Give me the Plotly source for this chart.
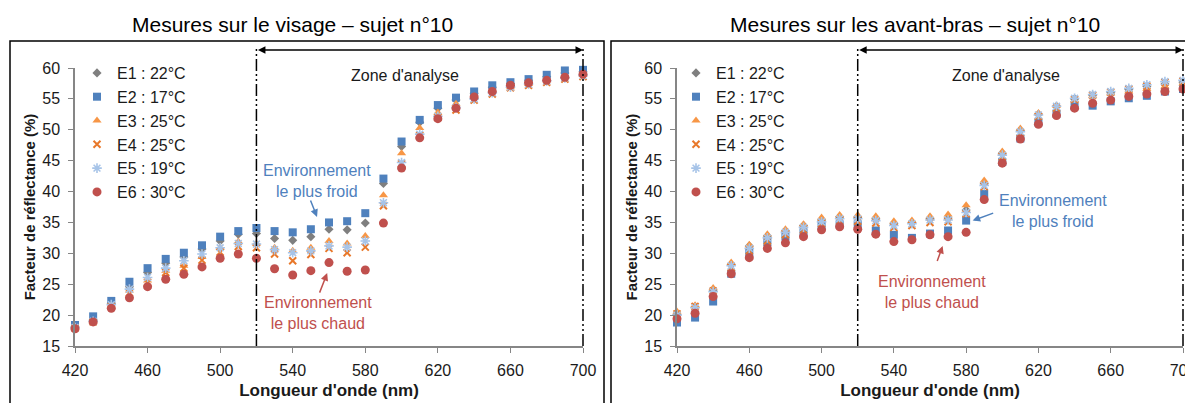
import plotly.graph_objects as go

# ---------------- data ----------------
wavelengths = list(range(420, 701, 10))

labels = ["E1 : 22°C", "E2 : 17°C", "E3 : 25°C", "E4 : 25°C", "E5 : 19°C", "E6 : 30°C"]

visage_E1 = [18.1, 19.2, 21.9, 24.6, 26.9, 28.4, 29.4, 30.7, 32.0, 33.1, 33.2, 32.4, 32.1, 32.7, 33.9, 33.8, 34.9, 41.3, 47.3, 51.2, 53.5, 54.8, 55.9, 56.9, 57.5, 58.0, 58.6, 59.2, 59.4]
visage_E2 = [18.4, 19.8, 22.3, 25.4, 27.6, 29.1, 30.1, 31.3, 32.7, 33.6, 34.1, 33.6, 33.4, 33.9, 35.0, 35.2, 36.5, 42.1, 48.1, 51.6, 54.0, 55.2, 56.2, 57.2, 57.7, 58.2, 58.9, 59.6, 59.7]
visage_E3 = [18.0, 19.0, 21.6, 24.0, 25.6, 27.2, 28.0, 29.4, 30.9, 31.9, 31.6, 30.9, 30.4, 30.9, 32.0, 31.6, 32.8, 39.4, 46.2, 50.3, 52.8, 54.2, 55.4, 56.3, 56.9, 57.4, 58.0, 58.6, 58.9]
visage_E4 = [17.9, 18.9, 21.4, 23.6, 25.3, 26.9, 27.6, 28.9, 30.2, 31.1, 30.9, 29.9, 28.8, 29.8, 30.8, 30.1, 31.0, 37.7, 44.5, 49.1, 52.0, 53.2, 54.8, 55.8, 56.8, 57.2, 57.7, 58.2, 58.6]
visage_E5 = [18.0, 19.0, 21.7, 24.2, 26.1, 27.6, 28.8, 29.9, 30.9, 31.6, 31.5, 30.6, 30.1, 30.4, 31.2, 31.0, 32.0, 38.2, 44.7, 49.3, 52.2, 53.6, 55.0, 56.0, 56.9, 57.4, 57.9, 58.4, 58.8]
visage_E6 = [17.8, 18.9, 21.1, 22.8, 24.6, 25.8, 26.6, 27.8, 29.2, 29.9, 29.2, 27.5, 26.5, 27.2, 28.5, 27.1, 27.3, 34.9, 43.8, 48.7, 51.8, 53.5, 55.3, 56.2, 57.2, 57.6, 58.0, 58.5, 59.0]

bras_E1 = [20.1, 21.3, 23.9, 28.2, 31.2, 32.8, 33.6, 34.5, 35.4, 35.9, 35.8, 35.6, 34.8, 35.0, 35.6, 35.7, 37.0, 41.3, 46.2, 49.9, 52.5, 53.8, 55.0, 55.6, 56.0, 56.5, 57.0, 57.4, 57.7]
bras_E2 = [18.8, 19.6, 22.2, 26.7, 30.1, 31.8, 32.7, 33.4, 34.5, 34.7, 34.7, 33.7, 33.0, 32.5, 33.2, 33.7, 35.3, 39.6, 44.8, 48.6, 51.2, 52.6, 53.8, 53.9, 54.6, 55.1, 55.5, 56.2, 56.6]
bras_E3 = [20.6, 21.6, 24.4, 28.5, 31.4, 33.1, 33.9, 34.7, 35.8, 36.2, 36.2, 36.0, 35.2, 35.3, 36.0, 36.3, 37.8, 41.8, 46.5, 50.2, 52.7, 53.9, 54.8, 55.5, 55.9, 56.2, 56.6, 57.0, 57.5]
bras_E4 = [20.2, 21.4, 23.9, 27.7, 30.4, 32.0, 33.0, 33.8, 34.8, 35.2, 35.2, 34.9, 34.2, 34.5, 35.0, 35.1, 36.4, 40.8, 45.6, 49.5, 52.2, 53.5, 54.9, 55.6, 56.1, 56.6, 57.1, 57.7, 57.9]
bras_E5 = [20.0, 21.2, 23.8, 28.0, 30.8, 32.5, 33.4, 34.2, 35.1, 35.6, 35.6, 35.3, 34.5, 34.8, 35.4, 35.4, 36.6, 41.0, 45.9, 49.7, 52.4, 53.8, 55.1, 55.7, 56.2, 56.7, 57.3, 57.8, 58.0]
bras_E6 = [19.4, 20.3, 23.0, 26.7, 29.3, 30.8, 31.7, 32.7, 33.8, 34.3, 33.9, 33.1, 31.9, 32.2, 33.0, 32.7, 33.4, 38.7, 44.6, 48.5, 50.9, 52.3, 53.5, 54.3, 54.8, 55.4, 55.8, 56.2, 56.6]

x_ticks = [420, 460, 500, 540, 580, 620, 660, 700]
y_ticks = [15, 20, 25, 30, 35, 40, 45, 50, 55, 60]
zone_start, zone_end = 520, 700

titles = ["Mesures sur le visage – sujet n°10", "Mesures sur les avant-bras – sujet n°10"]

# ---------------- styles ----------------
W, H = 1193, 403
OFF = 8  # page body margin
FONT = "Liberation Sans, Arial, sans-serif"
TXT = "#1a1a1a"


def PX(px):
    return (px - OFF) / W


def PY(py):
    return 1 - (py - OFF) / H


styles = [
    dict(symbol="diamond", size=7, color="#7f7f7f"),
    dict(symbol="square", size=8, color="#4f81bd"),
    dict(symbol="triangle-up", size=8, color="#f79646"),
    dict(symbol="x-thin", size=7, color="#e8782a", line=dict(width=2, color="#e8782a")),
    dict(symbol="asterisk", size=8, color="#a7c4e8", line=dict(width=1.6, color="#a7c4e8")),
    dict(symbol="circle", size=9, color="#c0504d"),
]

xdom1 = [PX(75), PX(583)]
xdom2 = [PX(677), PX(1183)]
ydom = [PY(346), PY(68)]

fig = go.Figure()

sets = [
    ([visage_E1, visage_E2, visage_E3, visage_E4, visage_E5, visage_E6], "x", "y", "legend"),
    ([bras_E1, bras_E2, bras_E3, bras_E4, bras_E5, bras_E6], "x2", "y2", "legend2"),
]
for series, xa, ya, lg in sets:
    for lab, vals, st in zip(labels, series, styles):
        fig.add_trace(go.Scatter(
            x=wavelengths, y=vals, mode="markers", name=lab,
            xaxis=xa, yaxis=ya, legend=lg, marker=st, cliponaxis=False,
        ))

axis_common = dict(
    showline=True, linecolor="#868686", linewidth=1.5, ticks="outside",
    ticklen=5, tickcolor="#868686", showgrid=False, zeroline=False,
    tickfont=dict(family=FONT, size=16, color=TXT),
)
xcommon = dict(axis_common, range=[420, 700], tickvals=x_ticks, ticklabelstandoff=4,
               title=dict(text="<b>Longueur d'onde (nm)</b>", standoff=6,
                          font=dict(family=FONT, size=17, color=TXT)))
ycommon = dict(axis_common, range=[15, 60], tickvals=y_ticks, ticklabelstandoff=5,
               title=dict(text="<b>Facteur de réflectance (%)</b>", standoff=3,
                          font=dict(family=FONT, size=15, color=TXT)))

legend_common = dict(xanchor="left", yanchor="top", bgcolor="rgba(0,0,0,0)",
                     font=dict(family=FONT, size=16, color=TXT),
                     itemwidth=30, tracegroupgap=0)

fig.update_layout(
    width=W, height=H, autosize=False,
    margin=dict(l=0, r=0, t=0, b=0, pad=0, autoexpand=False),
    paper_bgcolor="white", plot_bgcolor="white",
    font=dict(family=FONT, color=TXT),
    xaxis=dict(xcommon, domain=xdom1, anchor="y"),
    yaxis=dict(ycommon, domain=ydom, anchor="x"),
    xaxis2=dict(xcommon, domain=xdom2, anchor="y2"),
    yaxis2=dict(ycommon, domain=ydom, anchor="x2"),
    legend=dict(legend_common, x=PX(77), y=PY(56)),
    legend2=dict(legend_common, x=PX(676), y=PY(56)),
    showlegend=True,
)


def xpaper(v, dom):
    return dom[0] + (v - 420) / (700 - 420) * (dom[1] - dom[0])


shapes = []
annotations = []
arrow_y = PY(50)
line_top = PY(48)
dashpat = "12px,3px,2px,3px,2px,3px"
for dom, xa, title, tx in [(xdom1, "x", titles[0], PX(292)),
                            (xdom2, "x2", titles[1], PX(915))]:
    for v in (zone_start, zone_end):
        shapes.append(dict(type="line", xref="paper", yref="paper",
                           x0=xpaper(v, dom), x1=xpaper(v, dom), y0=ydom[0], y1=line_top,
                           line=dict(color="black", width=1.5, dash=dashpat)))
    annotations.append(dict(xref=xa, yref="paper", x=zone_end, y=arrow_y,
                            axref=xa, ayref="pixel", ax=zone_start, ay=0, text="",
                            showarrow=True, arrowhead=2, arrowside="end+start",
                            arrowsize=1, arrowwidth=1.5, arrowcolor="black",
                            standoff=0, startstandoff=0))
    annotations.append(dict(xref=xa, yref="paper", x=(zone_start + zone_end) / 2 - 8,
                            y=PY(75), xanchor="center", yanchor="middle",
                            text="Zone d'analyse", showarrow=False,
                            font=dict(family=FONT, size=16, color=TXT)))
    annotations.append(dict(xref="paper", yref="paper", x=tx, y=PY(25),
                            xanchor="center", yanchor="middle",
                            text=title, showarrow=False,
                            font=dict(family=FONT, size=21, color="black")))

# frames
shapes.append(dict(type="rect", xref="paper", yref="paper", x0=PX(10), x1=PX(604),
                   y0=-0.05, y1=PY(41), line=dict(color="black", width=1.5)))
shapes.append(dict(type="rect", xref="paper", yref="paper", x0=PX(611), x1=1.05,
                   y0=-0.05, y1=PY(41), line=dict(color="black", width=1.5)))

BLUE = "#4f81bd"
RED = "#c0504d"
txt_froid = "Environnement<br>le plus froid"
txt_chaud = "Environnement<br>le plus chaud"
afont_b = dict(family=FONT, size=16, color=BLUE)
afont_r = dict(family=FONT, size=16, color=RED)

# left panel annotations
annotations += [
    dict(xref="x", yref="y", x=553.4, y=41.7, text=txt_froid, showarrow=False, font=afont_b),
    dict(xref="x", yref="y", x=553.4, y=35.9, axref="x", ayref="y", ax=549.5, ay=38.8,
         text="", showarrow=True, arrowhead=2, arrowsize=1, arrowwidth=1.5, arrowcolor=BLUE),
    dict(xref="x", yref="y", x=554, y=20.3, text=txt_chaud, showarrow=False, font=afont_r),
    dict(xref="x", yref="y", x=559, y=26.8, axref="x", ayref="y", ax=554.5, ay=23.4,
         text="", showarrow=True, arrowhead=2, arrowsize=1, arrowwidth=1.5, arrowcolor=RED),
]
# right panel annotations
annotations += [
    dict(xref="x2", yref="y2", x=627.9, y=36.9, text=txt_froid, showarrow=False, font=afont_b),
    dict(xref="x2", yref="y2", x=583.6, y=35.3, axref="x2", ayref="y2", ax=595.8, ay=36.6,
         text="", showarrow=True, arrowhead=2, arrowsize=1, arrowwidth=1.5, arrowcolor=BLUE),
    dict(xref="x2", yref="y2", x=561, y=23.75, text=txt_chaud, showarrow=False, font=afont_r),
    dict(xref="x2", yref="y2", x=567, y=31.2, axref="x2", ayref="y2", ax=563.7, ay=28.5,
         text="", showarrow=True, arrowhead=2, arrowsize=1, arrowwidth=1.5, arrowcolor=RED),
]

fig.update_layout(shapes=shapes, annotations=annotations)
fig.write_html("out.html")
